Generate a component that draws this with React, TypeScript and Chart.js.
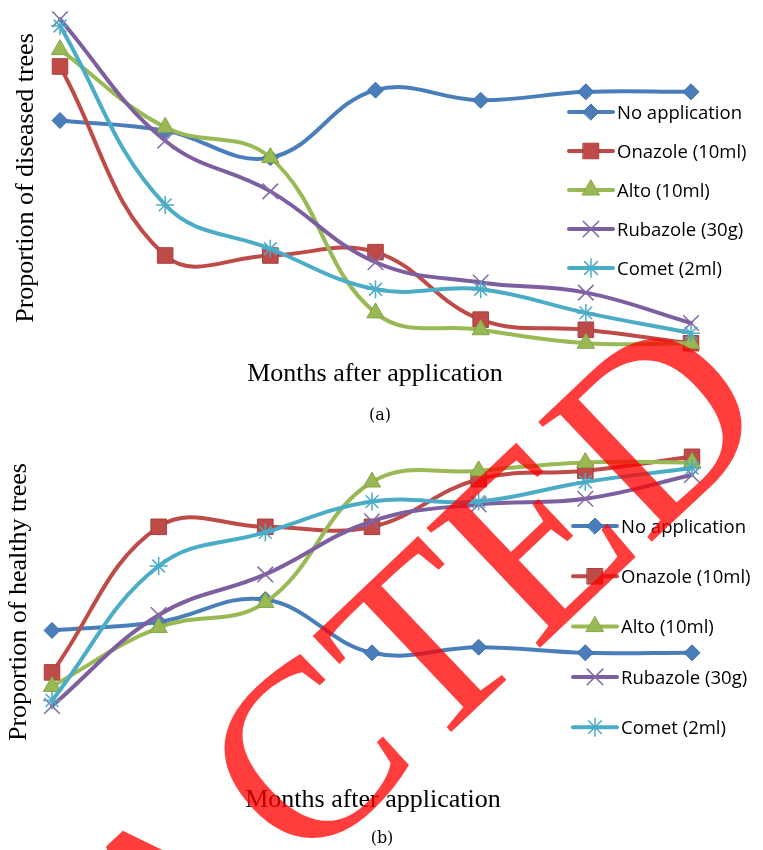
import React, { useEffect, useRef } from 'react';
import { Chart, registerables } from 'chart.js';
import { drawPoint } from 'chart.js/helpers';

Chart.register(...registerables);

// ---------- data ----------
const months = ['1', '2', '3', '4', '5', '6', '7'];
const seriesNames = ['No application', 'Onazole (10ml)', 'Alto (10ml)', 'Rubazole (30g)', 'Comet (2ml)'];

const noAppDiseased = [0.68, 0.65, 0.57, 0.77, 0.74, 0.765, 0.765];
const onazoleDiseased = [0.84, 0.28, 0.28, 0.29, 0.09, 0.06, 0.02];
const altoDiseased = [0.89, 0.66, 0.57, 0.11, 0.06, 0.02, 0.02];
const rubazoleDiseased = [0.98, 0.62, 0.47, 0.26, 0.2, 0.17, 0.08];
const cometDiseased = [0.96, 0.43, 0.3, 0.18, 0.18, 0.11, 0.05];

const noAppHealthy = [0.32, 0.35, 0.43, 0.24, 0.26, 0.24, 0.24];
const onazoleHealthy = [0.17, 0.69, 0.69, 0.69, 0.86, 0.89, 0.94];
const altoHealthy = [0.12, 0.33, 0.42, 0.85, 0.89, 0.92, 0.92];
const rubazoleHealthy = [0.05, 0.375, 0.52, 0.71, 0.77, 0.79, 0.875];
const cometHealthy = [0.07, 0.55, 0.67, 0.78, 0.78, 0.85, 0.9];

const watermarkHead = 'RETRA';
const watermarkTail = 'CTED';

// ---------- styles ----------
const seriesColors = ['#4A7EBB', '#BE4B48', '#98B954', '#7D5FA0', '#4BACC6'];
const markerBorders = ['#3D6DA8', '#A8403D', '#86A547', '#8468A8', '#4BACC6'];
const markerStyles = ['rectRot', 'rect', 'triangle', 'crossRot', 'star'];
const markerRadii = [8, 11, 10, 11, 9];
const markerBorderWidths = [1, 1, 1, 1.5, 1.5];

const legendFont = '18.5px "Open Sans"';

function buildDatasets(values: number[][]) {
  return values.map((data, i) => ({
    label: seriesNames[i],
    data,
    borderColor: seriesColors[i],
    backgroundColor: seriesColors[i],
    borderWidth: 4,
    tension: 0.4,
    fill: false,
    clip: false,
    borderCapStyle: 'round',
    borderJoinStyle: 'round',
    pointStyle: markerStyles[i],
    pointRadius: markerRadii[i],
    pointHoverRadius: markerRadii[i],
    pointBackgroundColor: seriesColors[i],
    pointBorderColor: markerBorders[i],
    pointBorderWidth: markerBorderWidths[i],
    order: values.length - 1 - i,
  }));
}

const sideLegend = {
  id: 'sideLegend',
  afterDraw(chart: any, _args: any, opts: any) {
    const ctx = chart.ctx;
    chart.data.datasets.forEach((ds: any, i: number) => {
      const y = opts.y0 + i * opts.dy;
      ctx.save();
      ctx.strokeStyle = ds.borderColor;
      ctx.lineWidth = 4;
      ctx.lineCap = 'round';
      ctx.beginPath();
      ctx.moveTo(opts.x0, y);
      ctx.lineTo(opts.x1, y);
      ctx.stroke();
      ctx.fillStyle = ds.pointBackgroundColor;
      ctx.strokeStyle = ds.pointBorderColor;
      ctx.lineWidth = ds.pointBorderWidth;
      drawPoint(
        ctx,
        { pointStyle: ds.pointStyle, radius: ds.pointRadius, rotation: 0, borderWidth: ds.pointBorderWidth },
        (opts.x0 + opts.x1) / 2,
        y
      );
      ctx.fillStyle = '#000';
      ctx.font = opts.font;
      ctx.textBaseline = 'alphabetic';
      ctx.textAlign = 'left';
      ctx.fillText(ds.label, opts.textX, y + opts.capShift);
      ctx.restore();
    });
  },
};

type PanelProps = {
  values: number[][];
  top: number;
  height: number;
  padding: { left: number; right: number; top: number; bottom: number };
  legend: { x0: number; x1: number; y0: number; dy: number; textX: number };
};

function ChartPanel({ values, top, height, padding, legend }: PanelProps) {
  const ref = useRef<HTMLCanvasElement | null>(null);
  useEffect(() => {
    if (!ref.current) return;
    const chart = new Chart(ref.current, {
      type: 'line',
      data: { labels: months, datasets: buildDatasets(values) as any },
      options: {
        responsive: false,
        animation: false,
        devicePixelRatio: 1,
        layout: { padding },
        scales: {
          x: { type: 'category', display: false, offset: false },
          y: { type: 'linear', display: false, min: 0, max: 1 },
        },
        plugins: {
          legend: { display: false },
          tooltip: { enabled: false },
          sideLegend: { ...legend, font: legendFont, capShift: 6.6 },
        } as any,
      },
      plugins: [sideLegend],
    });
    return () => chart.destroy();
  }, []);
  return (
    <canvas
      ref={ref}
      width={763}
      height={height}
      style={{ position: 'absolute', left: 0, top, width: 763, height }}
    />
  );
}

function Watermark() {
  const ref = useRef<HTMLCanvasElement | null>(null);
  useEffect(() => {
    const c = ref.current;
    if (!c) return;
    const ctx = c.getContext('2d');
    if (!ctx) return;
    ctx.clearRect(0, 0, 763, 850);
    ctx.save();
    ctx.translate(-298, 1443);
    ctx.rotate((-43.5 * Math.PI) / 180);
    ctx.font = '252px "Liberation Serif"';
    ctx.fillStyle = 'rgba(255,0,0,0.76)';
    ctx.textBaseline = 'alphabetic';
    const headW = ctx.measureText(watermarkHead).width;
    ctx.fillText(watermarkHead, -18, 12);
    ctx.fillText(watermarkTail, headW, 0);
    ctx.restore();
  }, []);
  return (
    <canvas
      ref={ref}
      width={763}
      height={850}
      style={{ position: 'absolute', left: 0, top: 0, width: 763, height: 850, zIndex: 10, pointerEvents: 'none' }}
    />
  );
}

const serifTitle: React.CSSProperties = {
  position: 'absolute',
  fontFamily: '"Liberation Serif", "Times New Roman", serif',
  fontSize: 26,
  lineHeight: '26px',
  whiteSpace: 'nowrap',
  color: '#000',
  transform: 'translate(-50%, -50%)',
};

const caption: React.CSSProperties = {
  position: 'absolute',
  fontFamily: '"DejaVu Serif", serif',
  fontSize: 16,
  lineHeight: '16px',
  whiteSpace: 'nowrap',
  color: '#000',
  transform: 'translate(-50%, -50%)',
};

export default function App() {
  return (
    <div style={{ position: 'absolute', left: 0, top: 0, width: 763, height: 850, background: '#fff', overflow: 'hidden' }}>
      <ChartPanel
        values={[noAppDiseased, onazoleDiseased, altoDiseased, rubazoleDiseased, cometDiseased]}
        top={0}
        height={410}
        padding={{ left: 60, right: 72, top: 10, bottom: 60 }}
        legend={{ x0: 569, x1: 613, y0: 112, dy: 39, textX: 617 }}
      />
      <ChartPanel
        values={[noAppHealthy, onazoleHealthy, altoHealthy, rubazoleHealthy, cometHealthy]}
        top={420}
        height={430}
        padding={{ left: 52, right: 71, top: 20, bottom: 130 }}
        legend={{ x0: 573, x1: 617, y0: 106, dy: 50.3, textX: 621 }}
      />
      <div style={{ ...serifTitle, left: 25, top: 178, transform: 'translate(-50%, -50%) rotate(-90deg)' }}>
        Proportion of diseased trees
      </div>
      <div style={{ ...serifTitle, left: 375, top: 373 }}>Months after application</div>
      <div style={{ ...caption, left: 380, top: 415 }}>(a)</div>
      <div style={{ ...serifTitle, left: 18, top: 602, transform: 'translate(-50%, -50%) rotate(-90deg)' }}>
        Proportion of healthy trees
      </div>
      <div style={{ ...serifTitle, left: 373, top: 799 }}>Months after application</div>
      <div style={{ ...caption, left: 382, top: 838 }}>(b)</div>
      <Watermark />
    </div>
  );
}
